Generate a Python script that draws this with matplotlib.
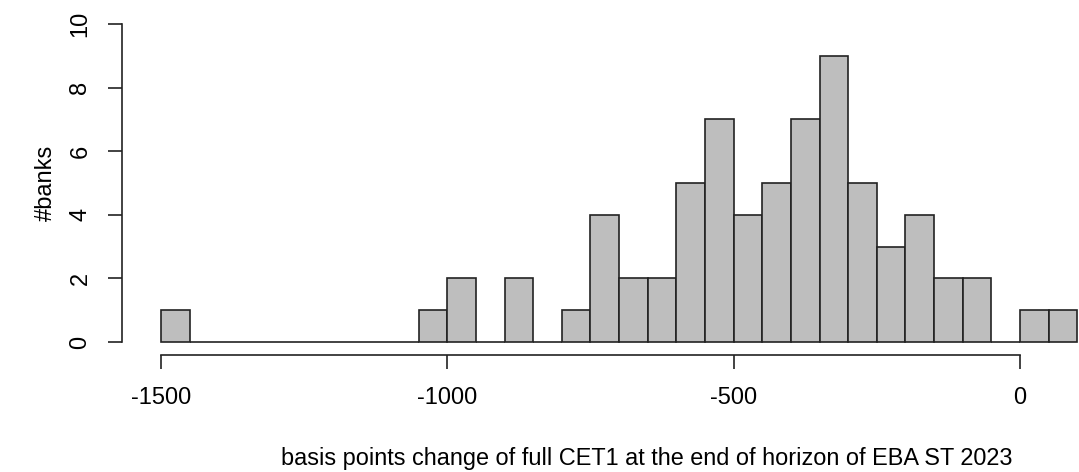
import matplotlib
matplotlib.use("Agg")
import matplotlib.pyplot as plt
import numpy as np

# Histogram data (bins of 50 bp from -1500 to 100)
bin_start = -1500
bin_width = 50
counts = [1, 0, 0, 0, 0, 0, 0, 0, 0, 1, 2, 0, 2, 0, 1, 4, 2, 2, 5, 7,
          4, 5, 7, 9, 5, 3, 4, 2, 2, 0, 1, 1]
x_ticks = [-1500, -1000, -500, 0]
y_ticks = [0, 2, 4, 6, 8, 10]
xlabel = "basis points change of full CET1 at the end of horizon of EBA ST 2023"
ylabel = "#banks"

edges = bin_start + bin_width * np.arange(len(counts) + 1)

W, H = 1079, 472
fig = plt.figure(figsize=(W / 100, H / 100), dpi=100)
plt.rcParams['font.family'] = ['Liberation Sans', 'DejaVu Sans']

left, right = 122, 1079
top, bottom = 11.3, 354.7
ax = fig.add_axes([left / W, 1 - bottom / H, (right - left) / W, (bottom - top) / H])
ax.patch.set_alpha(0)

ax.bar(edges[:-1], counts, width=bin_width, align='edge', color='#BEBEBE',
       edgecolor='#222222', linewidth=1.2)

ax.set_xlim(-1568, 103)
ax.set_ylim(-0.4, 10.4)

for s in ['top', 'right']:
    ax.spines[s].set_visible(False)
ax.spines['left'].set_bounds(0, 10)
ax.spines['bottom'].set_bounds(-1500, 0)
for s in ['left', 'bottom']:
    ax.spines[s].set_linewidth(1.2)
    ax.spines[s].set_color('#222222')

ax.set_xticks(x_ticks)
ax.set_xticklabels([str(v) for v in x_ticks])
ax.set_yticks(y_ticks)
ax.set_yticklabels([str(v) for v in y_ticks], rotation=90, va='center')
ax.tick_params(axis='both', direction='out', length=10, width=1.2, color='#222222',
               labelsize=17)
ax.tick_params(axis='x', pad=13)
ax.tick_params(axis='y', pad=12)

fig.text(647 / W, 1 - 458 / H, xlabel, ha='center', va='center', fontsize=16.9)
fig.text(46 / W, 1 - 183 / H, ylabel, ha='center', va='center', rotation=90,
         fontsize=17)

fig.savefig("out.png", dpi=100)
